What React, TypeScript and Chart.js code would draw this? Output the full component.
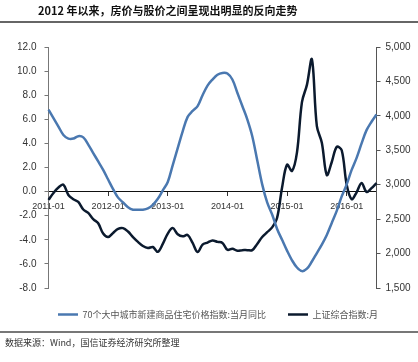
import { useEffect, useRef } from 'react';
import { Chart, registerables } from 'chart.js';

Chart.register(...registerables);

const months = [
  '2011-01','2011-02','2011-03','2011-04','2011-05','2011-06','2011-07','2011-08','2011-09','2011-10','2011-11','2011-12',
  '2012-01','2012-02','2012-03','2012-04','2012-05','2012-06','2012-07','2012-08','2012-09','2012-10','2012-11','2012-12',
  '2013-01','2013-02','2013-03','2013-04','2013-05','2013-06','2013-07','2013-08','2013-09','2013-10','2013-11','2013-12',
  '2014-01','2014-02','2014-03','2014-04','2014-05','2014-06','2014-07','2014-08','2014-09','2014-10','2014-11','2014-12',
  '2015-01','2015-02','2015-03','2015-04','2015-05','2015-06','2015-07','2015-08','2015-09','2015-10','2015-11','2015-12',
  '2016-01','2016-02','2016-03','2016-04','2016-05','2016-06','2016-07',
];

const housePriceYoY = [
  6.8, 6.1, 5.4, 4.7, 4.4, 4.4, 4.6, 4.5, 3.9, 3.2, 2.5, 1.8,
  1.0, 0.2, -0.5, -0.9, -1.3, -1.5, -1.5, -1.5, -1.4, -1.1, -0.6, 0.1,
  0.8, 2.2, 3.6, 5.0, 6.2, 6.7, 7.1, 8.0, 8.8, 9.3, 9.7, 9.85,
  9.8, 9.3, 8.2, 7.1, 6.0, 4.6, 2.6, 0.6, -0.9, -1.9, -3.1, -4.0,
  -4.9, -5.7, -6.3, -6.6, -6.4, -5.8, -5.1, -4.4, -3.6, -2.6, -1.6, -0.4,
  0.6, 1.8, 2.8, 4.0, 5.1, 5.8, 6.4,
];

const shanghaiIndex = [
  2780, 2880, 2960, 3000, 2850, 2790, 2750, 2640, 2590, 2500, 2440, 2290,
  2240, 2300, 2360, 2370, 2320, 2240, 2170, 2110, 2080, 2095, 2025, 2140,
  2290, 2370, 2280, 2250, 2270, 2154, 2023, 2130, 2160, 2190, 2170, 2155,
  2055, 2070, 2040, 2050, 2050, 2050, 2140, 2240, 2310, 2380, 2520, 2960,
  3290, 3200, 3470, 4200, 4450, 4820, 3850, 3610, 3140, 3330, 3550, 3500,
  3000, 2790, 2890, 3025, 2895, 2950, 3025,
];

const seriesNames = ['70个大中城市新建商品住宅价格指数:当月同比', '上证综合指数:月'];
const titleText = '2012 年以来，房价与股价之间呈现出明显的反向走势';
const sourceText = '数据来源：Wind，国信证券经济研究所整理';

const BLUE = '#4a78b0';
const DARK = '#0b1a2e';
const LATIN = '"Liberation Sans", Arial, sans-serif';
const CJK = '"Noto Sans CJK SC", "Liberation Sans", sans-serif';

export default function App() {
  const ref = useRef<HTMLCanvasElement>(null);

  useEffect(() => {
    if (!ref.current) return;
    const chart = new Chart(ref.current, {
      type: 'line',
      data: {
        labels: months,
        datasets: [
          {
            label: seriesNames[0],
            data: housePriceYoY,
            yAxisID: 'y',
            borderColor: BLUE,
            backgroundColor: BLUE,
            borderWidth: 2.5,
            pointRadius: 0,
            tension: 0.35,
          },
          {
            label: seriesNames[1],
            data: shanghaiIndex,
            yAxisID: 'y1',
            borderColor: DARK,
            backgroundColor: DARK,
            borderWidth: 2.5,
            pointRadius: 0,
            tension: 0.35,
          },
        ],
      },
      options: {
        responsive: false,
        animation: false,
        layout: { padding: { left: 18, right: 0, top: 47, bottom: 33 } },
        plugins: {
          tooltip: { enabled: false },
          legend: {
            position: 'bottom',
            labels: {
              usePointStyle: true,
              pointStyle: 'line',
              pointStyleWidth: 20,
              padding: 22,
              color: '#555',
              font: { size: 9, family: CJK },
            },
          },
        },
        scales: {
          x: {
            position: { y: 0 } as any,
            ticks: {
              autoSkip: false,
              maxRotation: 0,
              minRotation: 0,
              padding: 6,
              color: '#333',
              font: { size: 9, family: LATIN },
              callback: (_v: any, i: number) => (i % 12 === 0 ? months[i] : ''),
            },
            grid: {
              drawOnChartArea: false,
              drawTicks: true,
              tickLength: 4,
              tickColor: (ctx: any) => (ctx.index % 12 === 0 ? '#333' : 'rgba(0,0,0,0)'),
            },
            border: { display: true, color: '#111', width: 1 },
          },
          y: {
            position: 'left',
            min: -8,
            max: 12,
            ticks: {
              stepSize: 2,
              padding: 8,
              color: '#333',
              font: { size: 10, family: LATIN },
              callback: (v: any) => Number(v).toFixed(1),
            },
            grid: { drawOnChartArea: false, tickLength: 4, color: '#777' },
            border: { display: true, color: '#777', width: 1 },
            afterFit: (s: any) => { s.width = 30.5; },
          },
          y1: {
            position: 'right',
            min: 1500,
            max: 5000,
            ticks: {
              stepSize: 500,
              padding: 5,
              color: '#333',
              font: { size: 10, family: LATIN },
              callback: (v: any) => Number(v).toLocaleString('en-US'),
            },
            grid: { drawOnChartArea: false, tickLength: 4, color: '#555' },
            border: { display: true, color: '#555', width: 1 },
            afterFit: (s: any) => { s.width = 41.5; },
          },
        },
      },
    });
    return () => chart.destroy();
  }, []);

  return (
    <div style={{ position: 'absolute', left: 0, top: 0, width: 418, height: 362, background: '#fff', overflow: 'hidden' }}>
      <canvas ref={ref} width={418} height={362} style={{ position: 'absolute', left: 0, top: 0, width: 418, height: 362 }} />
      <div style={{ position: 'absolute', left: 38, top: 3, fontFamily: CJK, fontWeight: 'bold', fontSize: 11, lineHeight: '14px', color: '#111', whiteSpace: 'nowrap' }}>
        {titleText}
      </div>
      <div style={{ position: 'absolute', left: 0, top: 21, width: 418, height: 2, background: '#666' }} />
      <div style={{ position: 'absolute', left: 0, top: 331, width: 418, height: 2, background: '#777' }} />
      <div style={{ position: 'absolute', left: 5, top: 337, fontFamily: CJK, fontSize: 9, lineHeight: '12px', color: '#333', whiteSpace: 'nowrap' }}>
        {sourceText}
      </div>
    </div>
  );
}
